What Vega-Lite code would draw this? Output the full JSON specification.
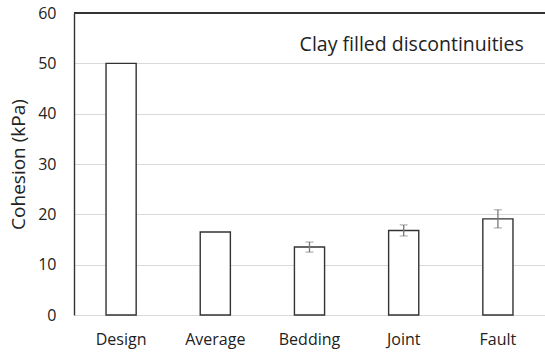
{
  "$schema": "https://vega.github.io/schema/vega-lite/v6.json",
  "width": 471,
  "height": 302,
  "autosize": {"type": "none"},
  "padding": {"left": 74, "top": 13, "right": 0, "bottom": 39},
  "config": {
    "view": {"stroke": null},
    "font": "Open Sans"
  },
  "data": {
    "values": [
      {"type": "Design", "cohesion": 50, "lo": null, "hi": null},
      {"type": "Average", "cohesion": 16.5, "lo": null, "hi": null},
      {"type": "Bedding", "cohesion": 13.5, "lo": 12.5, "hi": 14.5},
      {"type": "Joint", "cohesion": 16.8, "lo": 15.7, "hi": 17.9},
      {"type": "Fault", "cohesion": 19.1, "lo": 17.3, "hi": 20.9}
    ]
  },
  "encoding": {
    "x": {
      "field": "type",
      "type": "nominal",
      "sort": null,
      "scale": {"paddingInner": 0.68, "paddingOuter": 0.34},
      "axis": {
        "title": null,
        "labelAngle": 0,
        "domain": false,
        "ticks": false,
        "labelPadding": 16,
        "labelFontSize": 16,
        "labelColor": "#222",
        "labelFont": "Open Sans"
      }
    }
  },
  "layer": [
    {
      "mark": {"type": "bar", "fill": "white", "stroke": "#333", "strokeWidth": 1.4},
      "encoding": {
        "y": {
          "field": "cohesion",
          "type": "quantitative",
          "title": "Cohesion (kPa)",
          "scale": {"domain": [0, 60], "nice": false},
          "axis": {
            "titleFontSize": 19,
            "titleFontWeight": "normal",
            "titleColor": "#222",
            "titlePadding": 9,
            "values": [0, 10, 20, 30, 40, 50, 60],
            "labelFontSize": 16,
            "labelColor": "#222",
            "labelPadding": 18,
            "ticks": false,
            "domainColor": "#333",
            "domainWidth": 1.4,
            "gridColor": "#d9d9d9",
            "gridWidth": 1.2
          }
        }
      }
    },
    {
      "mark": {"type": "rule", "color": "#333", "strokeWidth": 1.4},
      "encoding": {"x": {}, "y": {"datum": 60}}
    },
    {
      "transform": [{"filter": "datum.lo != null"}],
      "mark": {"type": "errorbar", "ticks": {"size": 8, "color": "#777", "strokeWidth": 1.3}, "rule": {"color": "#777", "strokeWidth": 1.3}},
      "encoding": {
        "y": {"field": "lo", "type": "quantitative", "title": "Cohesion (kPa)"},
        "y2": {"field": "hi"}
      }
    },
    {
      "data": {"values": [{"note": "Clay filled discontinuities", "type": "Joint", "level": 53.7}]},
      "mark": {"type": "text", "fontSize": 19.5, "fontWeight": "normal", "color": "#222", "font": "Open Sans", "dx": 8},
      "encoding": {
        "x": {"field": "type", "type": "nominal"},
        "y": {"field": "level", "type": "quantitative", "title": "Cohesion (kPa)"},
        "text": {"field": "note"}
      }
    }
  ]
}
